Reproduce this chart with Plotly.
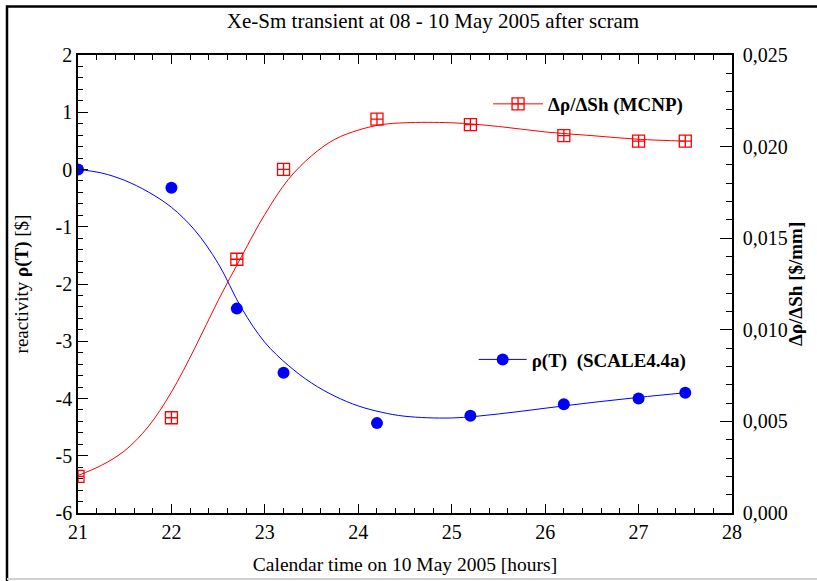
import plotly.graph_objects as go

# ---- data ----
time_h = [21.0, 22.0, 22.7, 23.2, 24.2, 25.2, 26.2, 27.0, 27.5]
rho_scale = [0.0, -0.32, -2.43, -3.55, -4.43, -4.30, -4.10, -4.00, -3.90]
drho_mcnp = [0.0020, 0.0052, 0.01385, 0.01876, 0.0215, 0.0212, 0.0206, 0.0203, 0.0203]

fit_time = [21.0, 21.25, 21.5, 21.75, 22.0, 22.25, 22.5, 22.75, 23.0, 23.25, 23.5,
            23.75, 24.0, 24.25, 24.5, 25.0, 25.5, 26.0, 26.5, 27.0, 27.5]
fit_rho = [0.0, -0.06, -0.19, -0.39, -0.66, -1.06, -1.64, -2.42, -3.02, -3.42, -3.73,
           -3.96, -4.13, -4.24, -4.31, -4.34, -4.27, -4.17, -4.07, -3.98, -3.90]
fit_drho = [0.00205, 0.0026, 0.0034, 0.0047, 0.0066, 0.0090, 0.0116, 0.0140, 0.0163,
            0.0182, 0.0195, 0.0204, 0.0209, 0.0212, 0.0213, 0.0213, 0.0211, 0.0208,
            0.0206, 0.0204, 0.0203]

x_ticks = [21, 22, 23, 24, 25, 26, 27, 28]
left_tick_vals = [-6, -5, -4, -3, -2, -1, 0, 1, 2]
left_tick_labels = ["-6", "-5", "-4", "-3", "-2", "-1", "0", "1", "2"]

FONT = "Liberation Serif"
BLUE = "#0000ff"
RED = "#ff0000"
red_marker = dict(symbol="square-cross-open", size=12, color=RED, line=dict(width=1.3, color=RED))
blue_marker = dict(symbol="circle", size=12, color=BLUE)

fig = go.Figure()

# fitted curves
fig.add_trace(go.Scatter(x=fit_time, y=fit_rho, mode="lines", line=dict(color=BLUE, width=1, shape="spline"),
                         showlegend=False, hoverinfo="skip"))
fig.add_trace(go.Scatter(x=fit_time, y=fit_drho, mode="lines", yaxis="y2",
                         line=dict(color=RED, width=1, shape="spline"),
                         showlegend=False, hoverinfo="skip"))
# points
fig.add_trace(go.Scatter(x=time_h, y=drho_mcnp, mode="markers", yaxis="y2",
                         marker=red_marker, showlegend=False))
fig.add_trace(go.Scatter(x=time_h, y=rho_scale, mode="markers",
                         marker=blue_marker, showlegend=False))
# legend entries
fig.add_trace(go.Scatter(x=[None], y=[None], mode="lines+markers", yaxis="y2",
                         name="<b>Δρ/ΔSh (MCNP)</b>", line=dict(color=RED, width=1),
                         marker=red_marker, legend="legend"))
fig.add_trace(go.Scatter(x=[None], y=[None], mode="lines+markers",
                         name="<b>ρ(T)  (SCALE4.4a)</b>", line=dict(color=BLUE, width=1),
                         marker=blue_marker, legend="legend2"))

axis_common = dict(showline=True, linecolor="black", linewidth=1.5, ticks="inside",
                   tickcolor="black", tickwidth=1, showgrid=False, zeroline=False, automargin=False,
                   tickfont=dict(family=FONT, size=20, color="black"))

fig.update_layout(
    width=817, height=581,
    margin=dict(l=78, r=85, t=55, b=68),
    paper_bgcolor="white", plot_bgcolor="white",
    separators=",.",
    font=dict(family=FONT, color="black"),
    title=dict(text="Xe-Sm transient at 08 - 10 May 2005 after scram", x=433/817, xanchor="center",
               y=0.965, yanchor="middle", font=dict(family=FONT, size=21, color="black")),
    xaxis=dict(range=[21, 28], tickvals=x_ticks, ticklen=9, mirror="ticks",
               minor=dict(dtick=0.2, ticklen=5, ticks="inside", tickcolor="black"),
               title=dict(text="Calendar time on 10 May 2005 [hours]", font=dict(family=FONT, size=19.5), standoff=16),
               **axis_common),
    yaxis=dict(range=[-6, 2], tickvals=left_tick_vals, ticktext=left_tick_labels, ticklen=10,
               minor=dict(dtick=0.2, ticklen=5, ticks="inside", tickcolor="black"),
               title=dict(text="reactivity <b>ρ(T)</b> [$]", font=dict(family=FONT, size=19), standoff=22),
               **axis_common),
    yaxis2=dict(range=[0, 0.025], dtick=0.005, tickformat=".3f", overlaying="y", side="right",
                ticklen=12, ticklabelstandoff=5,
                minor=dict(dtick=0.001, ticklen=6, ticks="inside", tickcolor="black"),
                **axis_common),
    legend=dict(x=0.627, y=0.893, xanchor="left", yanchor="middle", bgcolor="rgba(0,0,0,0)",
                font=dict(family=FONT, size=19, color="black"), itemwidth=50),
    legend2=dict(x=0.605, y=0.335, xanchor="left", yanchor="middle", bgcolor="rgba(0,0,0,0)",
                 font=dict(family=FONT, size=19, color="black"), itemwidth=48),
    annotations=[
        dict(text="<b>Δρ/ΔSh [$/mm]</b>", textangle=-90, xref="paper", yref="paper",
             x=(795 - 78) / 654, y=0.5, xanchor="center", yanchor="middle", showarrow=False,
             font=dict(family=FONT, size=19, color="black")),
    ],
    shapes=[
        dict(type="rect", xref="paper", yref="paper", x0=-71/654, x1=745/654, y0=-90/458.5, y1=507/458.5,
             line=dict(color="black", width=2.5), layer="below"),
        dict(type="line", xref="paper", yref="paper", x0=-71/654, x1=745/654, y0=-66/458.5, y1=-66/458.5,
             line=dict(color="#d0d0d0", width=2), layer="below"),
    ],
)

fig.write_html("out.html")
